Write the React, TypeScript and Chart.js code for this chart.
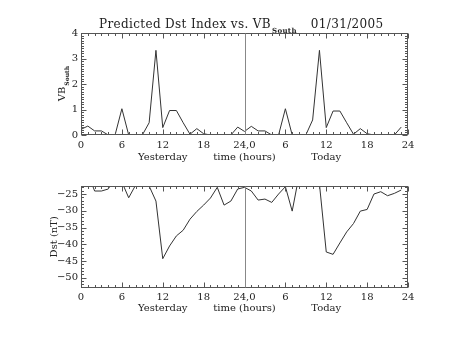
import { useEffect, useRef } from "react";
import { Chart, registerables } from "chart.js";

Chart.register(...registerables);

// Hours since start of "yesterday" (0..47)
const hours = [
  0, 1, 2, 3, 4, 5, 6, 7, 8, 9, 10, 11, 12, 13, 14, 15, 16, 17, 18, 19, 20, 21, 22, 23,
  24, 25, 26, 27, 28, 29, 30, 31, 32, 33, 34, 35, 36, 37, 38, 39, 40, 41, 42, 43, 44, 45, 46, 47,
];

const vbSouth = [
  0.22, 0.35, 0.16, 0.16, 0, 0, 1.03, 0, 0, 0, 0.48, 3.32, 0.29, 0.96, 0.96, 0.48, 0.03, 0.25, 0.05, 0, 0, 0, 0, 0.31,
  0.14, 0.34, 0.16, 0.16, 0, 0, 1.03, 0, 0, 0, 0.59, 3.32, 0.29, 0.94, 0.94, 0.48, 0.03, 0.25, 0.05, 0, 0, 0, 0, 0.31,
];

const dstIndex = [
  -20, -18.7, -24.1, -24.1, -23.5, -20, -21.4, -26.1, -22.4, -20, -22.6, -27.1, -44.3, -40.5, -37.5, -35.8, -32.5, -30.2, -28.3, -26.2, -23.0, -28.3, -27.1, -23.5,
  -23.0, -24.1, -26.8, -26.5, -27.5, -25.0, -22.8, -30.1, -19.5, -19.5, -20, -22, -42.3, -43.0, -39.6, -36.3, -33.8, -30.1, -29.6, -25.0, -24.3, -25.5, -24.8, -23.8,
];

const xTicks = [0, 6, 12, 18, 24, 30, 36, 42, 48];
const xTickLabels = ["0", "6", "12", "18", "24,0", "6", "12", "18", "24"];
const vbTicks = [0, 1, 2, 3, 4];
const vbTickLabels = ["0", "1", "2", "3", "4"];
const dstTicks = [-50, -45, -40, -35, -30, -25];
const dstTickLabels = ["\u221250", "\u221245", "\u221240", "\u221235", "\u221230", "\u221225"];

const W = 453;
const H = 170;
const SERIF = "'DejaVu Serif', serif";
const TEXT = "#222";
const FRAME = "#555";
const LINE = "#333";

type FrameCfg = {
  minorStep: number;
  kStart: number;
  kEnd: number;
  majorEvery: number;
  xTitleBaseline: number;
  yTitle: string;
  yTitleSub: string;
  yTitleX: number;
  drawMainTitle: boolean;
};

function drawTextWithSub(
  ctx: CanvasRenderingContext2D,
  x: number,
  y: number,
  main: string,
  sub: string,
  mainFont: string,
  subFont: string,
  subDrop: number,
  center: boolean
) {
  ctx.font = mainFont;
  const wm = ctx.measureText(main).width;
  ctx.font = subFont;
  const ws = ctx.measureText(sub).width;
  let sx = center ? x - (wm + ws) / 2 : x;
  ctx.textAlign = "left";
  ctx.textBaseline = "alphabetic";
  ctx.font = mainFont;
  ctx.fillText(main, sx, y);
  if (sub) {
    ctx.font = subFont;
    ctx.fillText(sub, sx + wm + 1, y + subDrop);
  }
  return sx + wm + 1 + ws;
}

function makeFramePlugin(cfg: FrameCfg) {
  return {
    id: "idlFrame",
    afterDatasetsDraw(chart: any) {
      const { ctx, chartArea: a, scales } = chart;
      const xs = scales.x;
      const ys = scales.y;
      const L = Math.round(a.left) + 0.5;
      const R = Math.round(a.right) - 0.5;
      const T = Math.round(a.top) + 0.5;
      const B = Math.round(a.bottom) - 0.5;
      ctx.save();
      ctx.lineWidth = 1;
      ctx.strokeStyle = FRAME;
      ctx.strokeRect(L, T, R - L, B - T);
      ctx.beginPath();
      for (let h = 0; h <= 48; h++) {
        const px = Math.round(xs.getPixelForValue(h)) + 0.5;
        const len = h % 6 === 0 ? 5 : 2.5;
        ctx.moveTo(px, B);
        ctx.lineTo(px, B - len);
        ctx.moveTo(px, T);
        ctx.lineTo(px, T + len);
      }
      for (let k = cfg.kStart; k <= cfg.kEnd; k++) {
        const v = k * cfg.minorStep;
        const py = Math.round(ys.getPixelForValue(v)) + 0.5;
        const len = k % cfg.majorEvery === 0 ? 5 : 2.5;
        ctx.moveTo(L, py);
        ctx.lineTo(L + len, py);
        ctx.moveTo(R, py);
        ctx.lineTo(R - len, py);
      }
      ctx.stroke();
      // vertical separator at 24 h
      ctx.strokeStyle = "#888";
      ctx.beginPath();
      const cx = Math.round(xs.getPixelForValue(24)) + 0.5;
      ctx.moveTo(cx, T);
      ctx.lineTo(cx, B);
      ctx.stroke();

      ctx.fillStyle = TEXT;
      // x titles
      ctx.font = `10px ${SERIF}`;
      ctx.textAlign = "center";
      ctx.textBaseline = "alphabetic";
      ctx.fillText("Yesterday", xs.getPixelForValue(12), cfg.xTitleBaseline);
      ctx.fillText("time (hours)", xs.getPixelForValue(24), cfg.xTitleBaseline);
      ctx.fillText("Today", xs.getPixelForValue(36), cfg.xTitleBaseline);

      // y title (rotated)
      ctx.save();
      ctx.translate(cfg.yTitleX, (a.top + a.bottom) / 2);
      ctx.rotate(-Math.PI / 2);
      drawTextWithSub(ctx, 0, 0, cfg.yTitle, cfg.yTitleSub, `10px ${SERIF}`, `bold 6px ${SERIF}`, 4, true);
      ctx.restore();

      if (cfg.drawMainTitle) {
        (ctx as any).letterSpacing = "0.35px";
        const end = drawTextWithSub(
          ctx,
          99,
          28,
          "Predicted Dst Index vs. VB",
          "South",
          `12px ${SERIF}`,
          `bold 7px ${SERIF}`,
          5,
          false
        );
        ctx.font = `12px ${SERIF}`;
        ctx.textAlign = "left";
        ctx.fillText("01/31/2005", Math.max(end + 14, 308), 28);
        (ctx as any).letterSpacing = "0px";
      }
      ctx.restore();
    },
  };
}

function makeChart(
  canvas: HTMLCanvasElement,
  values: number[],
  yMin: number,
  yMax: number,
  yTicks: number[],
  yTickLabels: string[],
  padding: { left: number; right: number; top: number; bottom: number },
  cfg: FrameCfg
) {
  return new Chart(canvas, {
    type: "line",
    data: {
      labels: hours,
      datasets: [
        {
          data: hours.map((h, i) => ({ x: h, y: values[i] })),
          borderColor: LINE,
          borderWidth: 1,
          pointRadius: 0,
          tension: 0,
          fill: false,
        },
      ],
    },
    options: {
      animation: false,
      responsive: false,
      maintainAspectRatio: false,
      devicePixelRatio: 1,
      layout: { padding },
      plugins: {
        legend: { display: false },
        title: { display: false },
        tooltip: { enabled: false },
      },
      scales: {
        x: {
          type: "linear",
          min: 0,
          max: 48,
          grid: { display: false, drawTicks: false, tickLength: 0 },
          border: { display: false },
          afterBuildTicks: (s: any) => {
            s.ticks = xTicks.map((v) => ({ value: v }));
          },
          afterFit: (s: any) => {
            s.height = 30;
          },
          ticks: {
            autoSkip: false,
            maxRotation: 0,
            padding: 4,
            color: TEXT,
            font: { family: SERIF, size: 10 },
            callback: (_v: any, i: number) => xTickLabels[i],
          },
        },
        y: {
          type: "linear",
          min: yMin,
          max: yMax,
          grid: { display: false, drawTicks: false, tickLength: 0 },
          border: { display: false },
          afterBuildTicks: (s: any) => {
            s.ticks = yTicks.map((v) => ({ value: v }));
          },
          afterFit: (s: any) => {
            s.width = 40;
          },
          ticks: {
            autoSkip: false,
            padding: 3,
            color: TEXT,
            font: { family: SERIF, size: 10 },
            callback: (_v: any, i: number) => yTickLabels[i],
          },
        },
      },
    } as any,
    plugins: [makeFramePlugin(cfg)],
  });
}

export default function App() {
  const topRef = useRef<HTMLCanvasElement>(null);
  const botRef = useRef<HTMLCanvasElement>(null);

  useEffect(() => {
    const c1 = makeChart(
      topRef.current!,
      vbSouth,
      0,
      4,
      vbTicks,
      vbTickLabels,
      { left: 41, right: 45, top: 33, bottom: 5 },
      {
        minorStep: 0.1,
        kStart: 0,
        kEnd: 40,
        majorEvery: 10,
        xTitleBaseline: 160,
        yTitle: "VB",
        yTitleSub: "South",
        yTitleX: 64.5,
        drawMainTitle: true,
      }
    );
    const c2 = makeChart(
      botRef.current!,
      dstIndex,
      -52.9,
      -22.6,
      dstTicks,
      dstTickLabels,
      { left: 41, right: 45, top: 16, bottom: 22.5 },
      {
        minorStep: 1,
        kStart: -52,
        kEnd: -23,
        majorEvery: 5,
        xTitleBaseline: 141,
        yTitle: "Dst (nT)",
        yTitleSub: "",
        yTitleX: 57,
        drawMainTitle: false,
      }
    );
    return () => {
      c1.destroy();
      c2.destroy();
    };
  }, []);

  return (
    <div style={{ position: "absolute", left: 0, top: 0, width: W, height: 340, background: "#fff" }}>
      <canvas ref={topRef} width={W} height={H} style={{ position: "absolute", left: 0, top: 0, width: W, height: H }} />
      <canvas ref={botRef} width={W} height={H} style={{ position: "absolute", left: 0, top: H, width: W, height: H }} />
    </div>
  );
}
